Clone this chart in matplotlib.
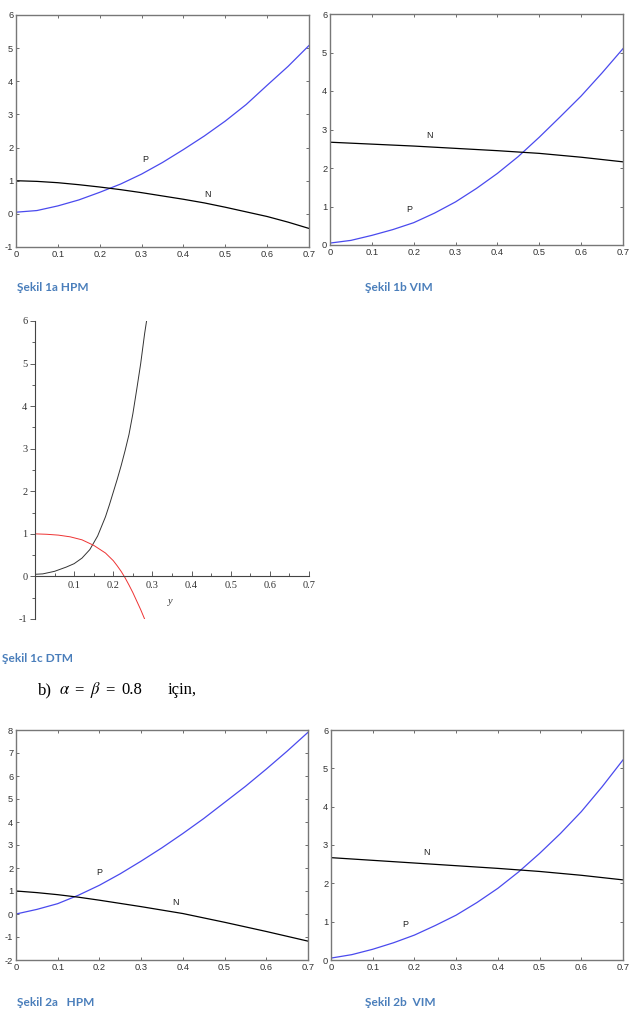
import matplotlib
matplotlib.use("Agg")
import matplotlib.pyplot as plt
from matplotlib.ticker import MultipleLocator

W, H = 632, 1011

# ── Data ──────────────────────────────────────────────────────────────────────
x_grid = [0.0, 0.05, 0.1, 0.15, 0.2, 0.25, 0.3, 0.35, 0.4, 0.45, 0.5, 0.55, 0.6, 0.65, 0.7]
x_coarse = [0.0, 0.1, 0.2, 0.3, 0.4, 0.5, 0.6, 0.7]

# Şekil 1a HPM
p_1a = [0.05, 0.1, 0.24, 0.42, 0.65, 0.9, 1.2, 1.55, 1.94, 2.35, 2.8, 3.3, 3.88, 4.45, 5.08]
n_1a = [1.0, 0.98, 0.94, 0.88, 0.81, 0.73, 0.64, 0.54, 0.44, 0.33, 0.2, 0.06, -0.08, -0.25, -0.44]

# Şekil 1b VIM
p_1b = [0.05, 0.12, 0.25, 0.4, 0.58, 0.83, 1.12, 1.47, 1.86, 2.3, 2.8, 3.33, 3.87, 4.47, 5.1]
n_1b = [2.67, 2.62, 2.57, 2.51, 2.45, 2.38, 2.28, 2.16]

# Şekil 1c DTM
x_1c_p = [0.0, 0.02, 0.05, 0.08, 0.1, 0.12, 0.14, 0.16, 0.18, 0.19, 0.2, 0.21, 0.22,
          0.23, 0.24, 0.25, 0.26, 0.27, 0.28, 0.285]
p_1c = [0.05, 0.06, 0.12, 0.22, 0.3, 0.43, 0.63, 0.95, 1.4, 1.68, 1.98, 2.28, 2.6,
        2.95, 3.33, 3.82, 4.4, 5.0, 5.7, 6.0]
x_1c_n = [0.0, 0.03, 0.06, 0.09, 0.12, 0.15, 0.18, 0.2, 0.21, 0.22, 0.23, 0.24, 0.25,
          0.26, 0.27, 0.28]
n_1c = [1.0, 0.99, 0.97, 0.93, 0.86, 0.73, 0.55, 0.37, 0.25, 0.12, -0.03, -0.2, -0.38,
        -0.58, -0.78, -1.0]

# Şekil 2a HPM
p_2a = [0.0, 0.2, 0.45, 0.82, 1.25, 1.75, 2.3, 2.88, 3.5, 4.15, 4.85, 5.55, 6.3, 7.08, 7.9]
n_2a = [1.0, 0.93, 0.84, 0.73, 0.6, 0.46, 0.32, 0.17, 0.02, -0.17, -0.36, -0.56, -0.76, -0.97, -1.18]

# Şekil 2b VIM
p_2b = [0.05, 0.14, 0.28, 0.45, 0.65, 0.9, 1.17, 1.5, 1.87, 2.3, 2.78, 3.3, 3.87, 4.52, 5.22]
n_2b = [2.67, 2.6, 2.53, 2.46, 2.39, 2.31, 2.21, 2.09]

xticks = [0, 0.1, 0.2, 0.3, 0.4, 0.5, 0.6, 0.7]
xtick_labels = ["0", "0.1", "0.2", "0.3", "0.4", "0.5", "0.6", "0.7"]

BLUE = "#4a4aee"
CAPTION = "#4a7ebb"
TICK_FONT = "Liberation Sans"

plt.rcParams["mathtext.fontset"] = "stix"
fig = plt.figure(figsize=(W / 100, H / 100), dpi=100)


def px_axes(left, top, right, bottom):
    return fig.add_axes([left / W, 1 - bottom / H, (right - left) / W, (bottom - top) / H])


def px_text(x, y, s, **kw):
    return fig.text(x / W, 1 - y / H, s, va="center", **kw)


def matlab_axes(ax, ylim, yticks):
    ax.set_xlim(0, 0.7)
    ax.set_ylim(*ylim)
    ax.set_xticks(xticks)
    ax.set_xticklabels(xtick_labels)
    ax.set_yticks(yticks)
    ax.set_yticklabels([str(v) for v in yticks])
    ax.tick_params(direction="in", length=2.5, width=0.6, top=True, right=True,
                   labelsize=6.7, labelcolor="#333333", color="#555555", pad=2)
    for lab in ax.get_xticklabels() + ax.get_yticklabels():
        lab.set_fontfamily(TICK_FONT)
    for sp in ax.spines.values():
        sp.set_color("#777777")
        sp.set_linewidth(1.0)


def curve_label(ax, x, y, s):
    ax.text(x, y, s, fontsize=6.5, family=TICK_FONT, color="#222222", ha="center", va="center")


def caption(x, y, s):
    px_text(x, y, s, color=CAPTION, fontsize=8.6, family="Lato", weight="bold")


# ── Şekil 1a ──────────────────────────────────────────────────────────────────
ax = px_axes(16, 15, 309, 247)
ax.plot(x_grid, p_1a, color=BLUE, lw=0.9)
ax.plot(x_grid, n_1a, color="black", lw=0.9)
matlab_axes(ax, (-1, 6), list(range(-1, 7)))
curve_label(ax, 0.308, 1.64, "P")
curve_label(ax, 0.457, 0.58, "N")
caption(17, 287, "Şekil 1a HPM")

# ── Şekil 1b ──────────────────────────────────────────────────────────────────
ax = px_axes(330, 14, 623, 245)
ax.plot(x_grid, p_1b, color=BLUE, lw=0.9)
ax.plot(x_coarse, n_1b, color="black", lw=0.9)
matlab_axes(ax, (0, 6), list(range(0, 7)))
curve_label(ax, 0.238, 2.84, "N")
curve_label(ax, 0.19, 0.92, "P")
caption(365, 287, "Şekil 1b VIM")

# ── Şekil 1c (Maple style) ────────────────────────────────────────────────────
ax = px_axes(35, 321, 309, 619)
ax.plot(x_1c_p, p_1c, color="#333333", lw=0.7)
ax.plot(x_1c_n, n_1c, color="#ee3333", lw=0.7)
ax.set_xlim(0, 0.7)
ax.set_ylim(-1, 6)
ax.spines["left"].set_position(("data", 0))
ax.spines["bottom"].set_position(("data", 0))
ax.spines["top"].set_visible(False)
ax.spines["right"].set_visible(False)
for sp in ("left", "bottom"):
    ax.spines[sp].set_linewidth(0.8)
    ax.spines[sp].set_color("#444444")
ax.set_xticks(xticks[1:])
ax.set_xticklabels(xtick_labels[1:])
ax.set_yticks(list(range(-1, 7)))
ax.set_yticklabels([str(v) for v in range(-1, 7)])
ax.xaxis.set_minor_locator(MultipleLocator(0.05))
ax.yaxis.set_minor_locator(MultipleLocator(0.5))
ax.tick_params(axis="x", which="both", direction="in", width=0.6, color="#444444")
ax.tick_params(axis="x", which="major", length=3.5, labelsize=7.5, pad=3)
ax.tick_params(axis="x", which="minor", length=2)
ax.tick_params(axis="y", which="both", direction="out", width=0.6, color="#444444")
ax.tick_params(axis="y", which="major", length=3.5, labelsize=7.5, pad=2)
ax.tick_params(axis="y", which="minor", length=2)
for lab in ax.get_xticklabels() + ax.get_yticklabels():
    lab.set_fontfamily("Liberation Serif")
    lab.set_color("#333333")
px_text(170, 602, "y", fontsize=7.5, family="Liberation Serif", style="italic",
        color="#333333", ha="center")
caption(2, 658, "Şekil 1c DTM")

# ── b) heading ────────────────────────────────────────────────────────────────
heading = dict(fontsize=12, family="Liberation Serif", color="black")
px_text(38, 690, "b)", **heading)
px_text(59, 690, r"$\alpha$", **heading)
px_text(74, 690, "=", **heading)
px_text(90, 690, r"$\beta$", **heading)
px_text(105, 690, "=", **heading)
px_text(121, 690, "0.8", **heading)
px_text(168, 690, "için,", **heading)

# ── Şekil 2a ──────────────────────────────────────────────────────────────────
ax = px_axes(16, 730, 308, 960)
ax.plot(x_grid, p_2a, color=BLUE, lw=0.9)
ax.plot(x_grid, n_2a, color="black", lw=0.9)
matlab_axes(ax, (-2, 8), list(range(-2, 9)))
curve_label(ax, 0.2, 1.8, "P")
curve_label(ax, 0.383, 0.49, "N")
caption(17, 1002, "Şekil 2a   HPM")

# ── Şekil 2b ──────────────────────────────────────────────────────────────────
ax = px_axes(331, 730, 623, 960)
ax.plot(x_grid, p_2b, color=BLUE, lw=0.9)
ax.plot(x_coarse, n_2b, color="black", lw=0.9)
matlab_axes(ax, (0, 6), list(range(0, 7)))
curve_label(ax, 0.228, 2.8, "N")
curve_label(ax, 0.179, 0.93, "P")
caption(365, 1002, "Şekil 2b  VIM")

fig.savefig("out.png", dpi=100)
